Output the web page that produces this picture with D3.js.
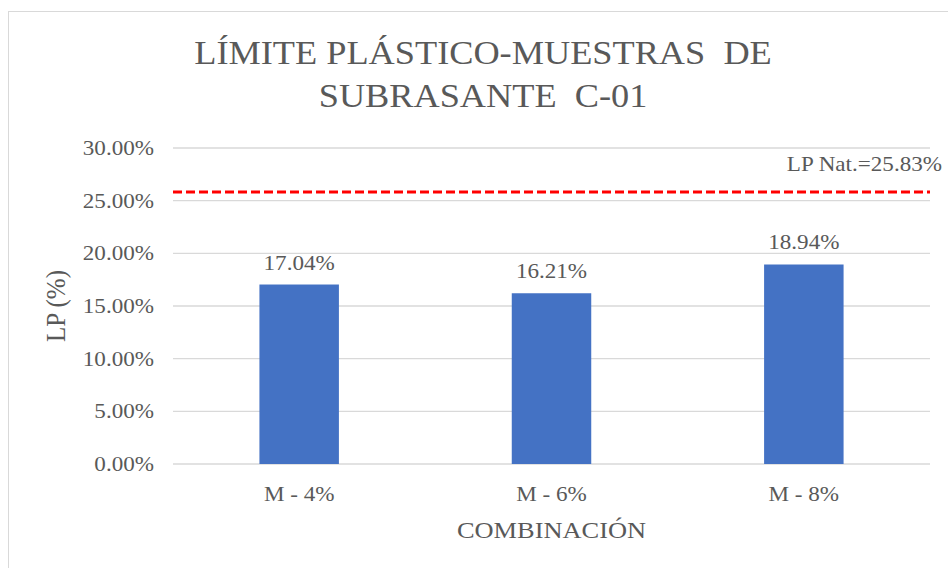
<!DOCTYPE html>
<html>
<head>
<meta charset="utf-8">
<script src="https://cdn.jsdelivr.net/npm/d3@7"></script>
<style>
  body { margin: 0; background: #fff; }
  svg text { font-family: "Liberation Serif", "DejaVu Serif", serif; fill: #595959; }
</style>
</head>
<body>
<div id="chart-area"></div>
<script>
// datos del grafico
const categorias = ["M - 4%", "M - 6%", "M - 8%"]
const valores = [0.1704, 0.1621, 0.1894]
const ticksY = [0, 0.05, 0.10, 0.15, 0.20, 0.25, 0.30]
const lpNatural = 0.2583
const titulo = ["LÍMITE PLÁSTICO-MUESTRAS  DE", "SUBRASANTE  C-01"]

const width = 948, height = 568
const margin = { left: 173, right: 18, top: 148, bottom: 104 }
const sx = 1.1  // el texto del original se ve algo ensanchado

const svg = d3.select("#chart-area").append("svg")
    .attr("width", width)
    .attr("height", height)
    .attr("font-family", "Liberation Serif, DejaVu Serif, serif")

// borde del area del grafico
svg.append("rect")
    .attr("x", 8.5).attr("y", 11.5)
    .attr("width", 960).attr("height", 600)
    .attr("fill", "#fff")
    .attr("stroke", "#d9d9d9")

const x = d3.scaleBand()
    .domain(categorias)
    .range([margin.left, width - margin.right])

const y = d3.scaleLinear()
    .domain([0, 0.30])
    .range([height - margin.bottom, margin.top])

const fmt = d3.format(".2%")
const pos = (px, py) => "translate(" + px + "," + py + ") scale(" + sx + ",1)"

// lineas de cuadricula
svg.append("g")
  .selectAll("line")
  .data(ticksY)
  .join("line")
    .attr("x1", margin.left).attr("x2", width - margin.right)
    .attr("y1", d => y(d)).attr("y2", d => y(d))
    .attr("stroke", "#d9d9d9")
    .attr("stroke-width", 1.3)

// etiquetas eje y
svg.append("g")
  .selectAll("text")
  .data(ticksY)
  .join("text")
    .attr("transform", d => pos(154, y(d) + 7))
    .attr("text-anchor", "end")
    .attr("font-size", 21)
    .text(d => fmt(d))

// barras
const barW = x.bandwidth() * 0.315
svg.append("g")
  .selectAll("rect")
  .data(valores)
  .join("rect")
    .attr("x", (d, i) => x(categorias[i]) + x.bandwidth() / 2 - barW / 2)
    .attr("y", d => y(d))
    .attr("width", barW)
    .attr("height", d => y(0) - y(d))
    .attr("fill", "#4472c4")

// etiquetas de valor
svg.append("g")
  .selectAll("text")
  .data(valores)
  .join("text")
    .attr("transform", (d, i) => pos(x(categorias[i]) + x.bandwidth() / 2, y(d) - 15))
    .attr("text-anchor", "middle")
    .attr("font-size", 21)
    .text(d => fmt(d))

// linea LP natural
svg.append("line")
    .attr("x1", margin.left).attr("x2", width - margin.right)
    .attr("y1", y(lpNatural)).attr("y2", y(lpNatural))
    .attr("stroke", "#ff0000")
    .attr("stroke-width", 3)
    .attr("stroke-dasharray", "9,4")

svg.append("text")
    .attr("transform", pos(942, y(lpNatural) - 21))
    .attr("text-anchor", "end")
    .attr("font-size", 21)
    .text("LP Nat.=" + fmt(lpNatural))

// etiquetas eje x
svg.append("g")
  .selectAll("text")
  .data(categorias)
  .join("text")
    .attr("transform", d => pos(x(d) + x.bandwidth() / 2, 501))
    .attr("text-anchor", "middle")
    .attr("font-size", 21)
    .text(d => d)

svg.append("text")
    .attr("transform", pos((margin.left + width - margin.right) / 2, 538))
    .attr("text-anchor", "middle")
    .attr("font-size", 24)
    .text("COMBINACIÓN")

svg.append("text")
    .attr("transform", "translate(65," + y(0.15) + ") scale(" + sx + ",1) rotate(-90)")
    .attr("text-anchor", "middle")
    .attr("font-size", 25)
    .text("LP (%)")

// titulo
svg.append("g")
  .selectAll("text")
  .data(titulo)
  .join("text")
    .attr("transform", (d, i) => pos(483, 64 + i * 43))
    .attr("text-anchor", "middle")
    .attr("font-size", 33)
    .style("white-space", "pre")
    .text(d => d)
</script>
</body>
</html>
